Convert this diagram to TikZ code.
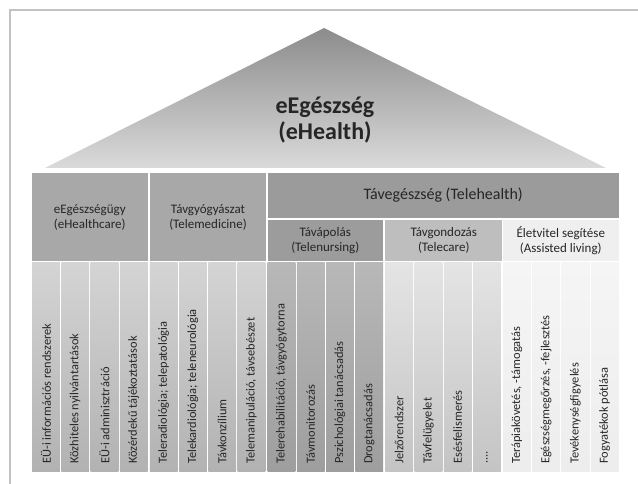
\documentclass[tikz,border=0pt]{standalone}
\usepackage{fontspec}
\setmainfont{Carlito}
\definecolor{frame}{HTML}{C2C2C2}
\definecolor{trtop}{HTML}{8C8C8C}
\definecolor{trbot}{HTML}{DADADA}
\definecolor{txt}{HTML}{262626}
\definecolor{gA}{HTML}{A8A8A8}
\definecolor{gBand}{HTML}{9B9B9B}
\definecolor{gN}{HTML}{9C9C9C}
\definecolor{gC}{HTML}{BEBEBE}
\definecolor{gL}{HTML}{EFEFEF}
\definecolor{cAt}{HTML}{D4D4D4}
\definecolor{cAb}{HTML}{B2B2B2}
\definecolor{cNt}{HTML}{B8B8B8}
\definecolor{cNb}{HTML}{9E9E9E}
\definecolor{cCt}{HTML}{E4E4E4}
\definecolor{cCb}{HTML}{C4C4C4}
\definecolor{cLt}{HTML}{F5F5F5}
\definecolor{cLb}{HTML}{EDEDED}
\begin{document}
\begin{tikzpicture}[x=1pt,y=-1pt,
  hbox/.style={draw=none, inner sep=0pt, align=center, text=txt,
    font=\fontsize{13}{15}\selectfont},
  colbox/.style={draw=none, inner sep=0pt, minimum width=27.75pt, minimum height=208pt},
  coltext/.style={rotate=90, anchor=west, inner sep=0pt, text=txt,
    font=\fontsize{12.4}{14}\selectfont},
  ]
\useasboundingbox (0,0) rectangle (638,484);
\draw[frame, line width=2pt] (638,10) -- (10,10) -- (10,484);
% roof
\shade[top color=trtop, bottom color=trbot] (45,168) -- (324,28) -- (606,168) -- cycle;
\node[align=center, text=txt, font=\bfseries\fontsize{24}{26}\selectfont] (title) at (325,120) {eEgészség\\(eHealth)};
% top level boxes
\node[hbox, fill=gA, minimum width=115.5pt, minimum height=88pt] (ehc) at (89.75,217) {eEgészségügy\\(eHealthcare)};
\node[hbox, fill=gA, minimum width=116pt, minimum height=88pt] (tmed) at (208,217) {Távgyógyászat\\(Telemedicine)};
\node[hbox, fill=gBand, minimum width=350.5pt, minimum height=45pt, font=\fontsize{16}{19}\selectfont] (thealth) at (443.25,195.5) {Távegészség (Telehealth)};
\node[hbox, fill=gN, minimum width=115.5pt, minimum height=41pt] (tnur) at (325.25,240.5) {Távápolás\\(Telenursing)};
\node[hbox, fill=gC, minimum width=117pt, minimum height=41pt] (tcare) at (443.75,240.5) {Távgondozás\\(Telecare)};
\node[hbox, fill=gL, minimum width=115.5pt, minimum height=41pt] (aliv) at (560.75,240.5) {Életvitel segítése\\(Assisted living)};
% columns
\foreach \k/\lab in {0/{EÜ-i információs rendszerek},1/{Közhiteles nyilvántartások},2/{EÜ-i adminisztráció},3/{Közérdekű tájékoztatások}}{
  \pgfmathsetmacro\xc{32+0*117.75+\k*29.25+13.875}
  \node[colbox, top color=cAt, bottom color=cAb] (colA\k) at (\xc,367) {};
  \node[coltext] (labA\k) at (\xc,464) {\lab};
}
\foreach \k/\lab in {0/{Teleradiológia; telepatológia},1/{Telekardiológia; teleneurológia},2/{Távkonzílium},3/{Telemanipuláció, távsebészet}}{
  \pgfmathsetmacro\xc{32+1*117.75+\k*29.25+13.875}
  \node[colbox, top color=cAt, bottom color=cAb] (colB\k) at (\xc,367) {};
  \node[coltext] (labB\k) at (\xc,464) {\lab};
}
\foreach \k/\lab in {0/{Telerehabilitáció, távgyógytorna},1/{Távmonitorozás},2/{Pszichológiai tanácsadás},3/{Drogtanácsadás}}{
  \pgfmathsetmacro\xc{32+2*117.75+\k*29.25+13.875}
  \node[colbox, top color=cNt, bottom color=cNb] (colC\k) at (\xc,367) {};
  \node[coltext] (labC\k) at (\xc,464) {\lab};
}
\foreach \k/\lab in {0/{Jelzőrendszer},1/{Távfelügyelet},2/{Esésfelismerés},3/{....}}{
  \pgfmathsetmacro\xc{32+3*117.75+\k*29.25+13.875}
  \node[colbox, top color=cCt, bottom color=cCb] (colD\k) at (\xc,367) {};
  \node[coltext] (labD\k) at (\xc,464) {\lab};
}
\foreach \k/\lab in {0/{Terápiakövetés, -támogatás},1/{Egészségmegőrzés, -fejlesztés},2/{Tevékenységfigyelés},3/{Fogyatékok pótlása}}{
  \pgfmathsetmacro\xc{32+4*117.75+\k*29.25+13.875}
  \node[colbox, top color=cLt, bottom color=cLb] (colE\k) at (\xc,367) {};
  \node[coltext] (labE\k) at (\xc,464) {\lab};
}
\end{tikzpicture}
\end{document}
